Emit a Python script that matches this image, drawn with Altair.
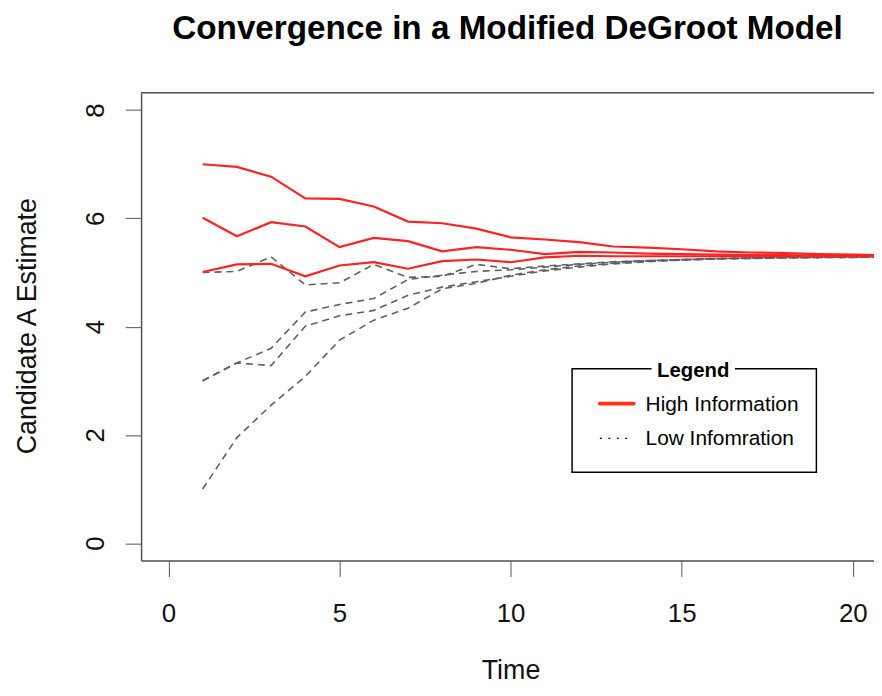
import altair as alt
import pandas as pd

# ---- data ----
time = list(range(1, 22))

high_1 = [7.00, 6.95, 6.77, 6.37, 6.36, 6.22, 5.94, 5.91, 5.81, 5.65, 5.61,
          5.56, 5.48, 5.46, 5.43, 5.39, 5.37, 5.36, 5.34, 5.33, 5.32]
high_2 = [6.01, 5.67, 5.93, 5.85, 5.47, 5.64, 5.58, 5.39, 5.47, 5.42, 5.34,
          5.38, 5.37, 5.35, 5.34, 5.33, 5.32, 5.32, 5.31, 5.31, 5.31]
high_3 = [5.01, 5.15, 5.16, 4.93, 5.13, 5.19, 5.07, 5.21, 5.24, 5.19, 5.28,
          5.31, 5.30, 5.30, 5.30, 5.30, 5.30, 5.30, 5.30, 5.30, 5.30]

low_1 = [5.00, 5.02, 5.29, 4.77, 4.81, 5.15, 4.91, 4.93, 5.15, 5.07, 5.12,
         5.16, 5.20, 5.22, 5.24, 5.26, 5.27, 5.28, 5.28, 5.29, 5.29]
low_2 = [3.00, 3.33, 3.60, 4.27, 4.41, 4.52, 4.87, 4.95, 5.02, 5.05, 5.10,
         5.15, 5.19, 5.22, 5.24, 5.26, 5.27, 5.28, 5.28, 5.29, 5.29]
low_3 = [3.00, 3.33, 3.28, 4.01, 4.20, 4.30, 4.58, 4.73, 4.83, 4.93, 5.03,
         5.10, 5.16, 5.20, 5.23, 5.25, 5.26, 5.27, 5.28, 5.28, 5.29]
low_4 = [1.00, 1.95, 2.55, 3.08, 3.75, 4.12, 4.34, 4.70, 4.80, 4.95, 5.05,
         5.12, 5.17, 5.21, 5.23, 5.25, 5.26, 5.27, 5.28, 5.28, 5.29]

x_ticks = [0, 5, 10, 15, 20]
y_ticks = [0, 2, 4, 6, 8]
legend_labels = ["High Information", "Low Infomration"]

series = [("H1", "high", high_1), ("H2", "high", high_2), ("H3", "high", high_3),
          ("L1", "low", low_1), ("L2", "low", low_2), ("L3", "low", low_3),
          ("L4", "low", low_4)]
rows = []
for name, grp, vals in series:
    for t, v in zip(time, vals):
        rows.append({"time": t, "value": v, "series": name, "group": grp})
df = pd.DataFrame(rows)
df_high = df[df.group == "high"]
df_low = df[df.group == "low"]

FONT = "Liberation Sans"
W, H = 738, 471

x_enc = alt.X(
    "time:Q",
    scale=alt.Scale(domain=[-0.8, 20.62], nice=False, zero=False),
    axis=alt.Axis(values=x_ticks, title="Time", grid=False, tickSize=16,
                  tickColor="#555555", tickWidth=1, domainColor="#555555",
                  domainWidth=1.5, labelFont=FONT, labelFontSize=26,
                  labelColor="#111111", labelPadding=24, labelBaseline="top",
                  labelFlush=False, labelOverlap=False, titleFont=FONT,
                  titleFontSize=27, titleFontWeight="normal", titleColor="#111111",
                  titleX=372, titleY=119, titleBaseline="alphabetic",
                  titleAlign="center"),
)
y_enc = alt.Y(
    "value:Q",
    scale=alt.Scale(domain=[-0.32, 8.32], nice=False, zero=False),
    axis=alt.Axis(values=y_ticks, title="Candidate A Estimate", grid=False,
                  tickSize=16, tickColor="#555555", tickWidth=1,
                  domainColor="#555555", domainWidth=1.5, labelFont=FONT,
                  labelFontSize=26, labelColor="#111111", labelAngle=270,
                  labelAlign="center", labelBaseline="alphabetic",
                  labelPadding=22, labelFlush=False, labelOverlap=False,
                  titleFont=FONT, titleFontSize=27, titleFontWeight="normal",
                  titleColor="#111111", titleAngle=270, titleX=-106,
                  titleY=234.5, titleBaseline="alphabetic", titleAlign="center"),
)

low = alt.Chart(df_low).mark_line(
    color="#606060", strokeWidth=1.6, strokeDash=[7, 5], clip=True
).encode(x=x_enc, y=y_enc, detail="series:N")

high = alt.Chart(df_high).mark_line(
    color="#ff2222", strokeWidth=2.2, clip=True
).encode(x=x_enc, y=y_enc, detail="series:N")

one = pd.DataFrame({"k": [0]})

top_border = alt.Chart(one).mark_rule(color="#555555", strokeWidth=1.5).encode(
    x=alt.value(0), x2=alt.value(W), y=alt.value(0))

leg_box = alt.Chart(one).mark_rect(fill="white", stroke="black", strokeWidth=1.5).encode(
    x=alt.value(434), x2=alt.value(680), y=alt.value(278), y2=alt.value(382))
leg_title_bg = alt.Chart(one).mark_rect(fill="white").encode(
    x=alt.value(514), x2=alt.value(598), y=alt.value(270), y2=alt.value(288))
leg_title = alt.Chart(one).mark_text(
    text="Legend", font=FONT, fontSize=20.5, fontWeight="bold", align="center",
    baseline="alphabetic", color="black").encode(x=alt.value(556), y=alt.value(286))
leg_red = alt.Chart(one).mark_rule(color="#ff3311", strokeWidth=4, strokeCap="round").encode(
    x=alt.value(462), x2=alt.value(496), y=alt.value(313))
leg_dot = alt.Chart(one).mark_rule(color="black", strokeWidth=1.3, strokeDash=[2, 6.5]).encode(
    x=alt.value(462), x2=alt.value(491), y=alt.value(348))
leg_t1 = alt.Chart(one).mark_text(
    text=legend_labels[0], font=FONT, fontSize=21, align="left",
    baseline="alphabetic", color="black").encode(x=alt.value(508), y=alt.value(320.5))
leg_t2 = alt.Chart(one).mark_text(
    text=legend_labels[1], font=FONT, fontSize=21, align="left",
    baseline="alphabetic", color="black").encode(x=alt.value(508), y=alt.value(354.5))

chart = alt.layer(
    low, high, top_border, leg_box, leg_title_bg, leg_title, leg_red, leg_dot,
    leg_t1, leg_t2
).properties(
    width=W, height=H,
    padding={"left": 134, "top": 83, "right": 0, "bottom": 126},
    autosize=alt.AutoSizeParams(type="none"),
    title=alt.TitleParams(
        "Convergence in a Modified DeGroot Model", font=FONT, fontSize=33.5,
        fontWeight="bold", anchor="middle", frame="group",
        baseline="alphabetic", offset=20, color="black"),
).configure_view(strokeWidth=0).configure(background="white")

chart.save("out.html", embed_options={"renderer": "svg", "actions": False})
